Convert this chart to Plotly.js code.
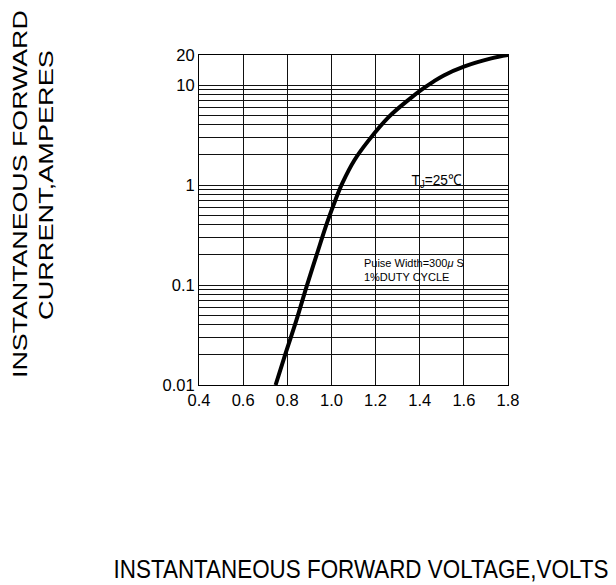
<!DOCTYPE html>
<html>
<head>
<meta charset="utf-8">
<script src="https://cdn.plot.ly/plotly-3.0.1.min.js"></script>
<style>body{margin:0;background:#fff;}#chart{width:616px;height:585px;}</style>
</head>
<body>
<div id="chart"></div>
<script>
const voltage = [0.747, 0.794, 0.840, 0.887, 0.933, 0.980, 1.019, 1.050, 1.104, 1.166, 1.259, 1.352, 1.418, 1.464, 1.509, 1.600, 1.724, 1.800];
const current = [0.01, 0.0213, 0.0435, 0.096, 0.2, 0.418, 0.718, 1.05, 1.77, 2.75, 4.78, 7.2, 9.3, 10.9, 12.5, 15.3, 18.5, 20];
const xTicks = [0.4, 0.6, 0.8, 1.0, 1.2, 1.4, 1.6, 1.8];
const xTickText = ['0.4', '0.6', '0.8', '1.0', '1.2', '1.4', '1.6', '1.8'];
const yTicks = [0.01, 0.1, 1, 10, 20];
const yTickText = ['0.01', '0.1', '1', '10', '20'];

const font = 'Liberation Sans, Arial, sans-serif';
const trace = {
  x: voltage, y: current, type: 'scatter', mode: 'lines',
  line: {color: '#000', width: 4, shape: 'spline', smoothing: 1},
  hoverinfo: 'skip'
};
// target drawn lengths (px) of annotation texts, in annotation order
const targetLen = [368, 270, 495, 50, 100];
const layout = {
  width: 616, height: 585,
  margin: {l: 199, r: 108, t: 55, b: 200},
  paper_bgcolor: '#fff', plot_bgcolor: '#fff',
  showlegend: false,
  font: {family: font, color: '#000', size: 16},
  xaxis: {
    range: [0.4, 1.8], tickvals: xTicks, ticktext: xTickText,
    showgrid: true, gridcolor: '#111', gridwidth: 1,
    showline: true, linecolor: '#000', linewidth: 1, mirror: true,
    ticks: '', zeroline: false, tickfont: {size: 16.5, family: font}
  },
  yaxis: {
    type: 'log', range: [-2, Math.log10(20)],
    tickvals: yTicks, ticktext: yTickText,
    showgrid: true, gridcolor: '#111', gridwidth: 1,
    minor: {dtick: 'D1', showgrid: true, gridcolor: '#111', gridwidth: 1, ticks: ''},
    showline: true, linecolor: '#000', linewidth: 1, mirror: true,
    ticks: '', zeroline: false, tickfont: {size: 16.5, family: font}
  },
  annotations: [
    {xref: 'paper', yref: 'paper', x: -0.581, y: 0.579, xanchor: 'center', yanchor: 'middle',
     text: 'INSTANTANEOUS FORWARD', textangle: -90, showarrow: false, font: {size: 21, family: font}},
    {xref: 'paper', yref: 'paper', x: -0.497, y: 0.606, xanchor: 'center', yanchor: 'middle',
     text: 'CURRENT,AMPERES', textangle: -90, showarrow: false, font: {size: 21, family: font}},
    {xref: 'paper', yref: 'paper', x: 0.523, y: -0.558, xanchor: 'center', yanchor: 'middle',
     text: 'INSTANTANEOUS FORWARD VOLTAGE,VOLTS', showarrow: false, font: {size: 25, family: font}},
    {xref: 'paper', yref: 'paper', x: 0.770, y: 0.621, xanchor: 'center', yanchor: 'middle',
     text: 'T<sub>J</sub>=25℃', showarrow: false, font: {size: 15, family: font}},
    {xref: 'paper', yref: 'paper', x: 0.697, y: 0.348, xanchor: 'center', yanchor: 'middle', align: 'left',
     text: 'Puise Width=300<i>μ</i> S<br>1%DUTY CYCLE', showarrow: false, font: {size: 11, family: font}}
  ]
};
Plotly.newPlot('chart', [trace], layout, {displayModeBar: false, staticPlot: true}).then(function () {
  document.querySelectorAll('#chart g.annotation').forEach(function (g) {
    const i = +g.getAttribute('data-index');
    const t = g.querySelector('text.annotation-text');
    if (!t || !(i in targetLen)) return;
    const bb = t.getBBox();
    if (!bb.width) return;
    const s = targetLen[i] / bb.width;
    const cx = bb.x + bb.width / 2, cy = bb.y + bb.height / 2;
    t.setAttribute('transform', 'translate(' + cx + ',' + cy + ') scale(' + s + ',1) translate(' + (-cx) + ',' + (-cy) + ')');
  });
});
</script>
</body>
</html>
